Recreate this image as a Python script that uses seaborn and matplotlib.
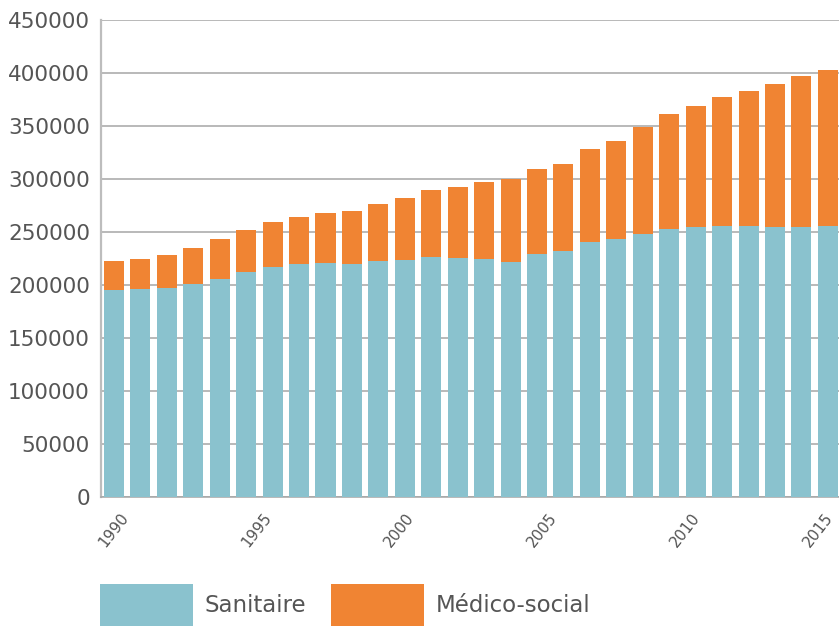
import numpy as np
import pandas as pd
import matplotlib
matplotlib.use("Agg")
import matplotlib.pyplot as plt
import matplotlib.transforms as mtransforms
from matplotlib.patches import Patch
import seaborn as sns

# Effectifs par période (28 relevés entre 1990 et 2015)
sanitaire = [195600, 196500, 197800, 201200, 205900, 212800, 217300, 220100,
             221000, 220100, 222900, 223900, 226700, 225800, 224800, 222000,
             229500, 232400, 240900, 243700, 248400, 253100, 255000, 256000,
             256000, 255000, 255000, 256000]
medico_social = [27300, 28300, 30800, 34000, 37800, 39400, 42400, 44300,
                 47200, 50000, 53800, 58500, 63200, 66900, 72700, 78000,
                 80200, 82000, 87700, 92400, 100900, 108500, 114200, 121600,
                 127300, 134900, 142500, 147100]
tick_years = [1990, 1995, 2000, 2005, 2010, 2015]
series_names = ["Sanitaire", "Médico-social"]
y_ticks = [0, 50000, 100000, 150000, 200000, 250000, 300000, 350000, 400000, 450000]

BLUE = "#8AC2CE"
ORANGE = "#F08433"
TEXT = "#555555"

df = pd.DataFrame({
    "periode": np.arange(len(sanitaire)),
    "sanitaire": sanitaire,
    "medico_social": medico_social,
})
df["total"] = df["sanitaire"] + df["medico_social"]

sns.set_theme(style="white")
plt.rcParams["font.family"] = ["DejaVu Sans"]

fig = plt.figure(figsize=(8.39, 6.26), dpi=100)
ax = fig.add_axes([101 / 839, 1 - 497.3 / 626, 1 - 101 / 839, (497.3 - 20.3) / 626])

# Empilement : la barre totale (orange) puis la part sanitaire (bleue) par-dessus
sns.barplot(data=df, x="periode", y="total", color=ORANGE, saturation=1,
            width=0.757, ax=ax, zorder=3, edgecolor="none", linewidth=0)
sns.barplot(data=df, x="periode", y="sanitaire", color=BLUE, saturation=1,
            width=0.757, ax=ax, zorder=4, edgecolor="none", linewidth=0)

ax.set_ylim(0, 450000)
ax.set_xlim(-0.49, len(sanitaire) - 1 + 0.42)
ax.set_yticks(y_ticks)
ax.set_yticklabels([str(v) for v in y_ticks])
ax.yaxis.grid(True, color="#A6A6A6", linewidth=1.1, zorder=0)
ax.set_axisbelow(True)

xpos = np.linspace(0, len(sanitaire) - 1, len(tick_years))
ax.set_xticks(xpos)
ax.tick_params(axis="x", length=0, pad=9)
ax.tick_params(axis="y", labelsize=15.5, labelcolor=TEXT, length=0, pad=8)
labels = ax.set_xticklabels([str(y) for y in tick_years], rotation=52,
                            ha="center", va="top", fontsize=11, color=TEXT)
# the last year label sits against the right edge: pull it slightly inward
labels[-1].set_transform(labels[-1].get_transform() +
                         mtransforms.ScaledTranslation(-10 / 100, 0, fig.dpi_scale_trans))
ax.set_xlabel("")
ax.set_ylabel("")

for side in ("top", "right"):
    ax.spines[side].set_visible(False)
ax.spines["left"].set_color("#BDBDBD")
ax.spines["left"].set_linewidth(1.6)
ax.spines["bottom"].set_color("#A6A6A6")
ax.spines["bottom"].set_linewidth(1.1)

handles = [Patch(facecolor=BLUE, edgecolor="none"),
           Patch(facecolor=ORANGE, edgecolor="none")]
leg = fig.legend(handles, series_names, loc="lower left",
                 bbox_to_anchor=(100 / 839, 0), borderaxespad=0, borderpad=0,
                 frameon=False, ncol=2, fontsize=16.5, handlelength=4.06,
                 handleheight=2.45, handletextpad=0.5, columnspacing=1.1)
for t in leg.get_texts():
    t.set_color(TEXT)

fig.savefig("out.png", dpi=100)
